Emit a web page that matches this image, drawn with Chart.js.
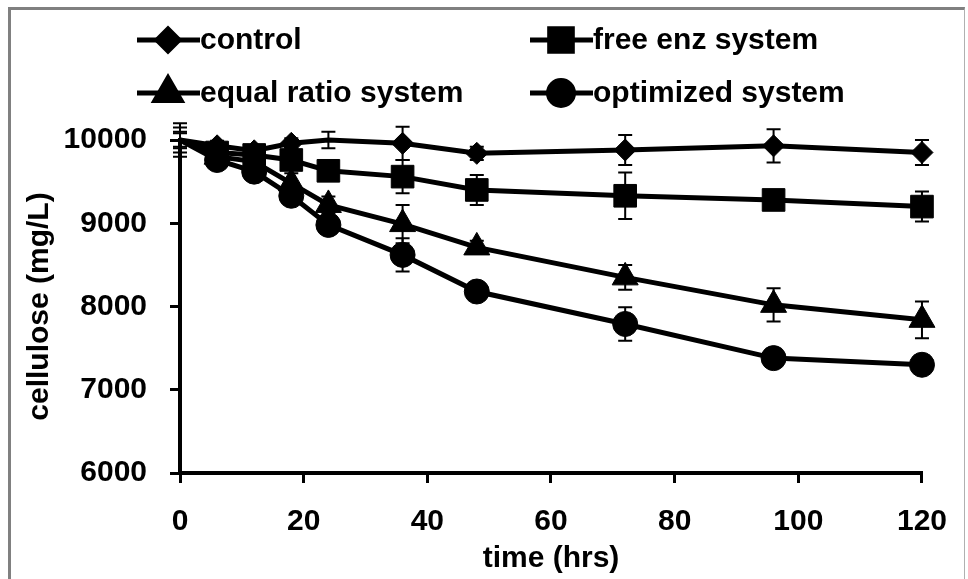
<!DOCTYPE html>
<html>
<head>
<meta charset="utf-8">
<script src="https://cdn.jsdelivr.net/npm/chart.js@4.4.1/dist/chart.umd.min.js"></script>
<style>
  body { margin: 0; background: #fff; }
  #wrap { position: relative; width: 968px; height: 579px; }
  #frame {
    position: absolute; left: 8px; top: 7px; width: 957px; height: 580px;
    border-left: 3px solid #808080; border-top: 3px solid #808080; border-right: 1px solid #b0b0b0;
    box-sizing: border-box; pointer-events: none;
  }
  canvas { position: absolute; left: 0; top: 0; }
</style>
</head>
<body>
<div id="wrap">
  <canvas id="chart" width="968" height="579"></canvas>
  <div id="frame"></div>
</div>
<script>
// time points (hrs)
const timeHrs = [0, 6, 12, 18, 24, 36, 48, 72, 96, 120];

// cellulose (mg/L)
const control = [10000, 9930, 9870, 9960, 10000, 9960, 9840, 9880, 9930, 9850];
const freeEnz = [10000, 9850, 9820, 9760, 9630, 9560, 9400, 9330, 9280, 9200];
const equalRatio = [10000, 9800, 9740, 9480, 9220, 8990, 8710, 8350, 8020, 7840];
const optimized = [10000, 9760, 9620, 9330, 8980, 8620, 8180, 7790, 7380, 7300];

// error bars (+/-)
const controlErr = [200, 60, 60, 60, 100, 200, 80, 180, 200, 150];
const freeEnzErr = [150, 80, 80, 100, 100, 200, 180, 280, 80, 180];
const equalRatioErr = [100, 80, 100, 120, 100, 230, 80, 150, 200, 220];
const optimizedErr = [80, 80, 80, 100, 100, 200, 80, 200, 80, 80];

const seriesLabels = ["control", "free enz system", "equal ratio system", "optimized system"];
const yTicks = [6000, 7000, 8000, 9000, 10000];
const xTicks = [0, 20, 40, 60, 80, 100, 120];

const FONT = "'Liberation Sans', Arial, sans-serif";

function makeSet(label, values, errs, style, radius, hidden) {
  // markers are not shown at t=0 (and at the hidden points) in the original
  const radii = timeHrs.map((t, i) => (i === 0 || hidden.includes(i) ? 0 : radius));
  return {
    label: label,
    data: timeHrs.map((t, i) => ({ x: t, y: values[i] })),
    errors: errs,
    markerRadius: radius,
    borderColor: "#000",
    backgroundColor: "#000",
    borderWidth: 5,
    pointStyle: style,
    pointRadius: radii,
    pointHoverRadius: radii,
    pointBackgroundColor: "#000",
    pointBorderColor: "#000",
    pointBorderWidth: 1,
    tension: 0,
    clip: false,
  };
}

// error bars drawn under the lines/markers
const errorBars = {
  id: "errorBars",
  beforeDatasetsDraw(chart) {
    const ctx = chart.ctx;
    const xs = chart.scales.x, ys = chart.scales.y;
    ctx.save();
    ctx.strokeStyle = "#000";
    ctx.lineWidth = 2;
    chart.data.datasets.forEach((ds) => {
      ds.data.forEach((p, i) => {
        const e = ds.errors[i];
        const px = xs.getPixelForValue(p.x);
        const top = ys.getPixelForValue(p.y + e);
        const bot = ys.getPixelForValue(p.y - e);
        ctx.beginPath();
        ctx.moveTo(px, top); ctx.lineTo(px, bot);
        ctx.moveTo(px - 7, top); ctx.lineTo(px + 7, top);
        ctx.moveTo(px - 7, bot); ctx.lineTo(px + 7, bot);
        ctx.stroke();
      });
    });
    ctx.restore();
  },
};

// two-column legend at the top
const legendBlock = {
  id: "legendBlock",
  afterDraw(chart) {
    const ctx = chart.ctx;
    const cols = [137, 530];
    const rows = [40, 93];
    ctx.save();
    chart.data.datasets.forEach((ds, i) => {
      const x0 = cols[i % 2];
      const y0 = rows[Math.floor(i / 2)];
      ctx.strokeStyle = "#000";
      ctx.lineWidth = 5;
      ctx.beginPath();
      ctx.moveTo(x0, y0); ctx.lineTo(x0 + 63, y0);
      ctx.stroke();
      ctx.fillStyle = "#000";
      Chart.helpers.drawPoint(ctx, {
        pointStyle: ds.pointStyle, radius: ds.markerRadius, borderWidth: 1, rotation: 0,
      }, x0 + 31, y0);
      ctx.fill();
      ctx.font = "bold 30px " + FONT;
      ctx.textBaseline = "middle";
      ctx.textAlign = "left";
      ctx.fillText(ds.label, x0 + 63, y0 + 1);
    });
    ctx.restore();
  },
};

const tickFont = { family: FONT, size: 30, weight: "bold" };

new Chart(document.getElementById("chart"), {
  type: "line",
  data: {
    datasets: [
      makeSet(seriesLabels[0], control, controlErr, "rectRot", 11, [4]),
      makeSet(seriesLabels[1], freeEnz, freeEnzErr, "rect", 16, []),
      makeSet(seriesLabels[2], equalRatio, equalRatioErr, "triangle", 15, []),
      makeSet(seriesLabels[3], optimized, optimizedErr, "circle", 12.5, []),
    ],
  },
  options: {
    responsive: false,
    animation: false,
    layout: { padding: { top: 140, right: 45, left: 0, bottom: 0 } },
    plugins: { legend: { display: false }, tooltip: { enabled: false } },
    scales: {
      x: {
        type: "linear",
        min: 0,
        max: 120,
        afterBuildTicks: (s) => { s.ticks = xTicks.map((v) => ({ value: v })); },
        afterFit: (s) => { s.height = 106; },
        border: { color: "#000", width: 4 },
        grid: { drawOnChartArea: false, drawTicks: true, tickLength: 10, color: "#000", lineWidth: 3 },
        ticks: { color: "#000", padding: 21, font: tickFont, callback: (v) => String(v) },
        title: {
          display: true, text: "time (hrs)", color: "#000",
          padding: { top: 0, bottom: 2 },
          font: tickFont,
        },
      },
      y: {
        min: 6000,
        max: 10000,
        afterBuildTicks: (s) => { s.ticks = yTicks.map((v) => ({ value: v })); },
        afterFit: (s) => { s.width = 180; },
        border: { color: "#000", width: 4 },
        grid: { drawOnChartArea: false, drawTicks: true, tickLength: 10, color: "#000", lineWidth: 3 },
        ticks: { color: "#000", padding: 23, font: tickFont, callback: (v) => String(v) },
        title: {
          display: true, text: "cellulose (mg/L)", color: "#000",
          padding: { top: 22, bottom: 0 },
          font: tickFont,
        },
      },
    },
  },
  plugins: [errorBars, legendBlock],
});
</script>
</body>
</html>
